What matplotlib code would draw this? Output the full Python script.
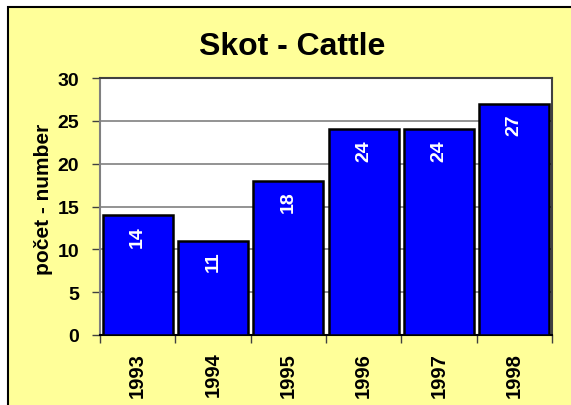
import matplotlib
matplotlib.use("Agg")
import matplotlib.pyplot as plt
from matplotlib.patches import Rectangle

plt.rcParams['font.family'] = ['Liberation Sans', 'DejaVu Sans']

years = ["1993", "1994", "1995", "1996", "1997", "1998"]
counts = [14, 11, 18, 24, 24, 27]

W, H = 571, 406
fig = plt.figure(figsize=(W / 100, H / 100), dpi=100, facecolor="white")

# yellow chart area with black frame, clipped at right and bottom
fig.patches.append(Rectangle((8 / W, -0.05), 1.1, 1 - 8 / H + 0.05,
                             transform=fig.transFigure, facecolor="#FFFF99",
                             edgecolor="black", linewidth=1.5, zorder=-10))

ax = fig.add_axes([100 / W, (H - 336) / H, (552 - 100) / W, (336 - 79) / H])
ax.set_facecolor("white")

x = list(range(len(years)))
bars = ax.bar(x, counts, width=0.93, color="#0000FF", edgecolor="black",
              linewidth=1.8, zorder=3)

for xi, v in zip(x, counts):
    ax.annotate(str(v), (xi, v), xytext=(0, -7), textcoords="offset points",
                ha="center", va="top", rotation=90, color="white",
                fontsize=14, fontweight="bold", zorder=4)

ax.set_xlim(-0.5, len(years) - 0.5)
ax.set_ylim(0, 30)
ax.set_yticks(range(0, 31, 5))
ax.yaxis.grid(True, color="#808080", linewidth=1.2, zorder=0)
ax.set_axisbelow(True)

# tick marks at category boundaries, labels at bar centres
ax.set_xticks([i - 0.5 for i in range(len(years) + 1)])
ax.set_xticklabels([])
ax.set_xticks(x, minor=True)
ax.set_xticklabels(years, minor=True, rotation=90, fontsize=14.5, fontweight="bold")
ax.tick_params(axis="x", which="major", length=6, width=1, color="#404040")
ax.tick_params(axis="x", which="minor", length=0, pad=12)
ax.tick_params(axis="y", length=6, width=1, color="#404040", pad=9,
               labelsize=14)
for lab in ax.get_yticklabels():
    lab.set_fontweight("bold")

for side in ["top", "right"]:
    ax.spines[side].set_color("#404040")
    ax.spines[side].set_linewidth(1.5)
ax.spines["left"].set_color("#808080")
ax.spines["left"].set_linewidth(1.5)
ax.spines["bottom"].set_color("black")
ax.spines["bottom"].set_linewidth(1.5)

ax.set_ylabel("počet - number", fontsize=15, fontweight="bold")
ax.yaxis.set_label_coords(-0.104, 0.533)
fig.text(292 / W, 1 - 47 / H, "Skot - Cattle", ha="center", va="center",
         fontsize=23, fontweight="bold")

fig.savefig("out.png", dpi=100)
